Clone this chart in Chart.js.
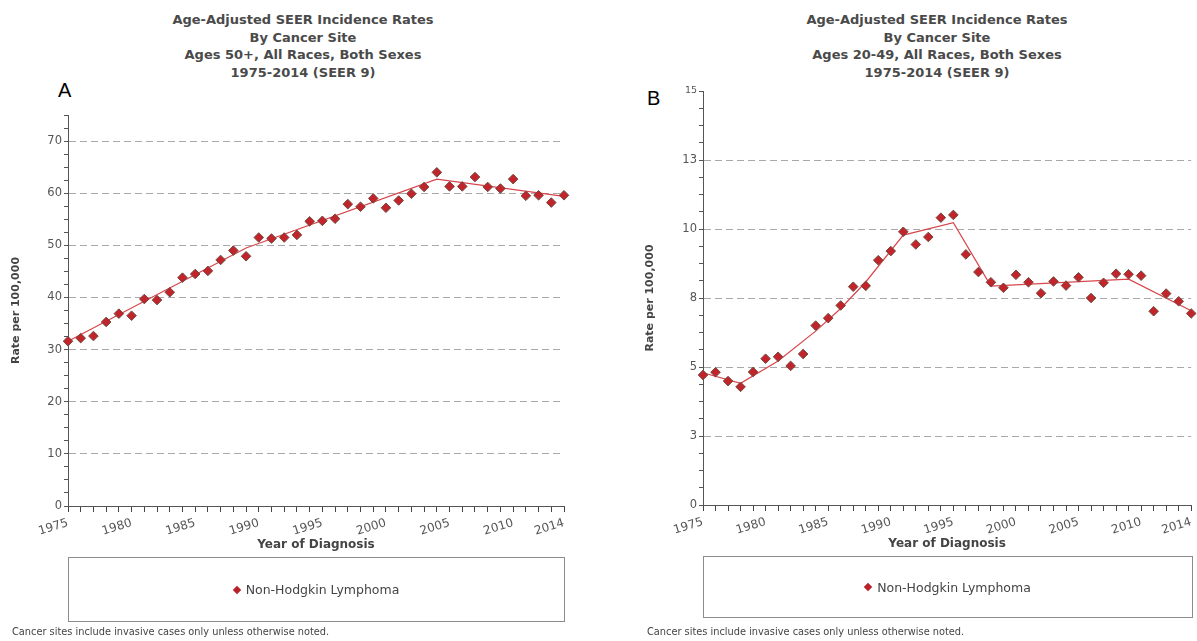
<!DOCTYPE html>
<html>
<head>
<meta charset="utf-8">
<script src="https://cdn.jsdelivr.net/npm/chart.js@4.4.1/dist/chart.umd.min.js"></script>
<style>
  body { margin: 0; background: #fff; }
  #page { position: relative; width: 1197px; height: 641px; overflow: hidden; font-family: "DejaVu Sans", sans-serif; }
  .panel-title { position: absolute; top: 11px; width: 440px; text-align: center; font-weight: bold; font-size: 13px; line-height: 17.5px; color: #4a4a4a; }
  .panel-tag { position: absolute; font-family: "Liberation Sans", Arial, sans-serif; font-size: 20px; line-height: 20px; color: #000; }
  canvas { position: absolute; top: 0; }
  .legend { position: absolute; box-sizing: border-box; border: 1px solid #8c8c8c; display: flex; align-items: center; justify-content: center; font-size: 12.5px; color: #444; }
  .legend i { display: inline-block; width: 6px; height: 6px; background: #b82228; transform: rotate(45deg); margin-right: 6px; }
  .note { position: absolute; top: 626px; font-size: 9.8px; color: #444; white-space: nowrap; }
</style>
</head>
<body>
<div id="page">
  <div class="panel-title" style="left:83px;">Age-Adjusted SEER Incidence Rates<br>By Cancer Site<br>Ages 50+, All Races, Both Sexes<br>1975-2014 (SEER 9)</div>
  <div class="panel-title" style="left:717px;">Age-Adjusted SEER Incidence Rates<br>By Cancer Site<br>Ages 20-49, All Races, Both Sexes<br>1975-2014 (SEER 9)</div>
  <div class="panel-tag" style="left:58px; top:80px;">A</div>
  <div class="panel-tag" style="left:647px; top:88px;">B</div>

  <canvas id="chartA" width="600" height="641" style="left:0;"></canvas>
  <canvas id="chartB" width="597" height="641" style="left:600px;"></canvas>

  <div class="legend" style="left:68px; top:557px; width:497px; height:65px;"><i></i>Non-Hodgkin Lymphoma</div>
  <div class="legend" style="left:703px; top:556px; width:490px; height:62px;"><i></i>Non-Hodgkin Lymphoma</div>

  <div class="note" style="left:12px;">Cancer sites include invasive cases only unless otherwise noted.</div>
  <div class="note" style="left:647px;">Cancer sites include invasive cases only unless otherwise noted.</div>
</div>

<script>
// Year of diagnosis
const years = [1975, 1976, 1977, 1978, 1979, 1980, 1981, 1982, 1983, 1984,
               1985, 1986, 1987, 1988, 1989, 1990, 1991, 1992, 1993, 1994,
               1995, 1996, 1997, 1998, 1999, 2000, 2001, 2002, 2003, 2004,
               2005, 2006, 2007, 2008, 2009, 2010, 2011, 2012, 2013, 2014];

// Observed age-adjusted rates per 100,000, ages 50+
const ratesAge50Plus = [31.6, 32.2, 32.6, 35.3, 36.9, 36.5, 39.7, 39.5, 41.0, 43.8,
                        44.5, 45.1, 47.2, 49.0, 47.9, 51.5, 51.3, 51.5, 52.0, 54.6,
                        54.7, 55.1, 57.9, 57.4, 59.0, 57.2, 58.6, 59.9, 61.2, 64.0,
                        61.3, 61.3, 63.1, 61.2, 60.9, 62.7, 59.5, 59.6, 58.2, 59.6];

// Observed age-adjusted rates per 100,000, ages 20-49
const ratesAge20to49 = [4.71, 4.81, 4.49, 4.28, 4.82, 5.30, 5.37, 5.04, 5.47, 6.50,
                        6.77, 7.23, 7.91, 7.94, 8.87, 9.20, 9.90, 9.44, 9.71, 10.41,
                        10.51, 9.08, 8.44, 8.07, 7.87, 8.34, 8.07, 7.67, 8.10, 7.95,
                        8.25, 7.50, 8.05, 8.38, 8.36, 8.31, 7.02, 7.66, 7.38, 6.94];

// Fitted joinpoint trend, ages 50+
const trendYearsAge50Plus = [1975, 1989, 2004, 2014];
const trendAge50Plus      = [31.6, 49.5, 62.7, 59.4];

// Fitted joinpoint trend, ages 20-49
const trendYearsAge20to49 = [1975, 1978, 1981, 1984, 1986, 1988, 1991, 1995, 1998, 2009, 2014];
const trendAge20to49      = [4.79, 4.41, 5.22, 6.30, 7.12, 8.08, 9.78, 10.23, 7.93, 8.18, 7.04];

// Years that carry a label on the horizontal axis
const xLabelYears = [1975, 1980, 1985, 1990, 1995, 2000, 2005, 2010, 2014];

const FONT = '"DejaVu Sans", sans-serif';

function buildChart(canvasId, cfg) {
  const isMajor = v => Math.abs(v / cfg.majorStep - Math.round(v / cfg.majorStep)) < 1e-9;
  return new Chart(document.getElementById(canvasId), {
    type: 'scatter',
    data: {
      datasets: [
        {
          label: 'Non-Hodgkin Lymphoma',
          data: years.map((yr, i) => ({ x: yr, y: cfg.rates[i] })),
          showLine: false,
          pointStyle: 'rectRot',
          pointRadius: 4.8,
          pointHoverRadius: 4.8,
          backgroundColor: '#c3232b',
          borderColor: '#6e4b3f',
          borderWidth: 1,
          clip: false
        },
        {
          label: 'Trend',
          data: cfg.trendYears.map((yr, i) => ({ x: yr, y: cfg.trend[i] })),
          showLine: true,
          pointRadius: 0,
          borderColor: '#d8454b',
          borderWidth: 1.2,
          fill: false,
          clip: false
        }
      ]
    },
    options: {
      responsive: false,
      animation: false,
      events: [],
      layout: { padding: cfg.padding },
      plugins: { legend: { display: false }, tooltip: { enabled: false } },
      scales: {
        x: {
          type: 'linear',
          min: 1975,
          max: 2014,
          afterFit(scale) {
            scale.height = 47;
            // the last rotated year label may run past the right edge
            scale.paddingRight = 0;
          },
          ticks: {
            stepSize: 1,
            maxTicksLimit: 100,
            autoSkip: false,
            minRotation: 17,
            maxRotation: 17,
            padding: 4,
            color: '#555',
            font: { family: FONT, size: 12 },
            callback: v => (xLabelYears.includes(v) ? String(v) : '')
          },
          grid: { drawOnChartArea: false, tickLength: 6, tickColor: '#444' },
          border: { color: '#555', width: 1 },
          title: {
            display: true,
            text: 'Year of Diagnosis',
            color: '#444',
            font: { family: FONT, size: 12, weight: 'bold' },
            padding: { top: 0, bottom: 1 }
          }
        },
        y: {
          type: 'linear',
          min: 0,
          max: cfg.yMax,
          afterFit(scale) { scale.width = cfg.yWidth; },
          ticks: {
            stepSize: cfg.minorStep,
            maxTicksLimit: 100,
            autoSkip: false,
            padding: 2,
            color: '#555',
            font: ctx => ({ family: FONT, size: (cfg.smallTop && ctx.tick && ctx.tick.value === cfg.yMax) ? 9.5 : 11.5 }),
            callback: v => (isMajor(v) ? String(Math.round(v)) : '')
          },
          grid: {
            color: ctx => (ctx.tick && isMajor(ctx.tick.value) && ctx.tick.value > 0 && ctx.tick.value < cfg.yMax) ? '#a9a9a9' : 'rgba(0,0,0,0)',
            lineWidth: 1,
            tickLength: 4,
            tickColor: '#555'
          },
          border: { color: '#555', width: 1, dash: [7, 4] },
          title: {
            display: true,
            text: 'Rate per 100,000',
            color: '#444',
            font: { family: FONT, size: 11, weight: 'bold' },
            padding: { top: cfg.yTitlePad, bottom: 0 }
          }
        }
      }
    }
  });
}

buildChart('chartA', {
  rates: ratesAge50Plus,
  trendYears: trendYearsAge50Plus,
  trend: trendAge50Plus,
  yMax: 75,
  majorStep: 10,
  minorStep: 2.5,
  yWidth: 68,
  yTitlePad: 10,
  smallTop: false,
  padding: { left: 0, top: 115, right: 36, bottom: 88 }
});

buildChart('chartB', {
  rates: ratesAge20to49,
  trendYears: trendYearsAge20to49,
  trend: trendAge20to49,
  yMax: 15,
  majorStep: 2.5,
  minorStep: 0.625,
  yWidth: 103,
  yTitlePad: 44,
  smallTop: true,
  padding: { left: 0, top: 91, right: 3, bottom: 89 }
});
</script>
</body>
</html>
